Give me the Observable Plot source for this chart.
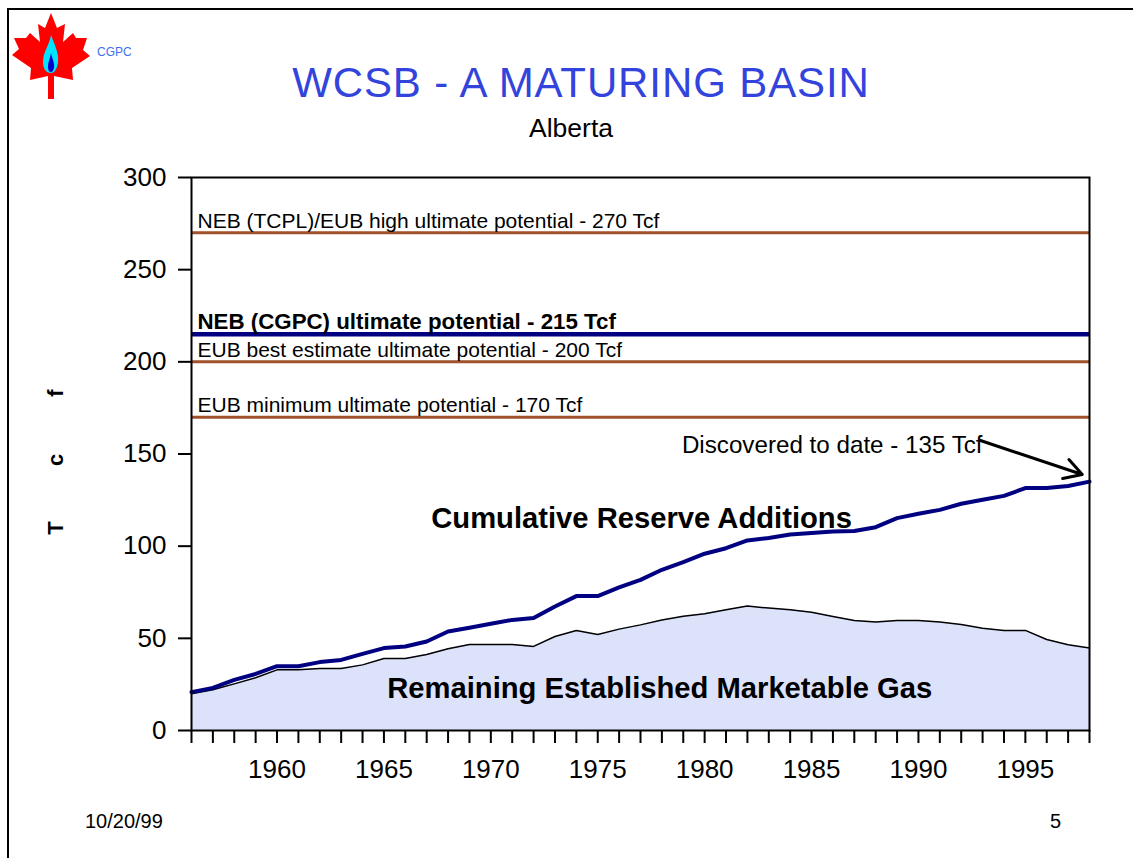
<!DOCTYPE html>
<html>
<head>
<meta charset="utf-8">
<script src="https://cdn.jsdelivr.net/npm/d3@7"></script>
<script src="https://cdn.jsdelivr.net/npm/@observablehq/plot@0.6"></script>
<style>
  html, body { margin: 0; padding: 0; background: #fff; overflow: hidden; }
  #page { position: relative; width: 1133px; height: 858px; overflow: hidden; font-family: "Liberation Sans", Arial, sans-serif; color: #000; }
  .abs { position: absolute; white-space: nowrap; line-height: 1; }
  #border { position: absolute; left: 7px; top: 8px; width: 1400px; height: 1000px; border: 2px solid #000; box-sizing: border-box; }
  #chart { position: absolute; left: 0; top: 160px; }
  #title { left: 581px; top: 61.5px; transform: translateX(-50%); font-size: 42px; color: #3344dd; letter-spacing: 0.9px; }
  #subtitle { left: 571px; top: 115px; transform: translateX(-50%); font-size: 26.5px; }
  #cgpc { left: 97px; top: 46px; font-size: 12px; color: #3d6fef; }
  #ylabel { left: 56px; top: 462px; transform: translate(-50%, -50%) rotate(-90deg); font-size: 22px; font-weight: bold; letter-spacing: 57px; padding-left: 57px; }
  #date { left: 85px; top: 811px; font-size: 20px; }
  #pagenum { left: 1050px; top: 811px; font-size: 20px; }
</style>
</head>
<body>
<div id="page">
  <div id="border"></div>
  <svg class="abs" style="left:0;top:0" width="100" height="105" viewBox="0 0 100 105">
    <polygon fill="#ff0000" points="51,13 57,28 65,24 63,42 73,33 76,38 87,38 83,50 90,56 72,68 73,80 54,76 54,99 48,99 48,76 30,80 31,68 12,55 19,49 14,38 26,38 30,33 40,42 38,24 45,28"/>
    <path fill="#00e5ff" d="M51,35 C54,44 59,52 58,62 C57,70 54,73 51,73 C47,73 43,70 43,62 C43,52 49,46 51,35 Z"/>
    <path fill="#0000cc" d="M51,53 C52,59 55,63 54,68 C53,71 52,72 51,72 C49,72 48,70 48,67 C48,62 50,59 51,53 Z"/>
  </svg>
  <div class="abs" id="cgpc">CGPC</div>
  <div class="abs" id="title">WCSB - A MATURING BASIN</div>
  <div class="abs" id="subtitle">Alberta</div>
  <div class="abs" id="ylabel">Tcf</div>
  <div id="chart"></div>
  <div class="abs" id="date">10/20/99</div>
  <div class="abs" id="pagenum">5</div>
</div>
<script>
// ---- Data ----
const years = [1956,1957,1958,1959,1960,1961,1962,1963,1964,1965,1966,1967,1968,1969,1970,1971,1972,1973,1974,1975,1976,1977,1978,1979,1980,1981,1982,1983,1984,1985,1986,1987,1988,1989,1990,1991,1992,1993,1994,1995,1996,1997,1998];
const cumulativeReserves = [20.8,23.1,27.5,30.7,34.9,34.9,37.1,38.3,41.6,44.7,45.6,48.3,53.7,55.7,57.9,60.0,61.0,67.3,72.9,72.9,77.6,81.7,87.2,91.3,95.9,98.9,103.1,104.4,106.3,107.2,108.0,108.2,110.3,115.2,117.6,119.7,123.0,125.2,127.3,131.5,131.5,132.6,135.0];
const remainingGas = [19.9,22.1,25.3,28.6,32.9,32.9,33.6,33.6,35.6,39.1,39.1,41.2,44.3,46.7,46.7,46.7,45.6,51.0,54.3,52.1,55.0,57.3,60.0,62.0,63.3,65.5,67.5,66.4,65.5,64.2,61.9,59.7,58.8,59.7,59.7,58.9,57.5,55.5,54.3,54.3,49.4,46.5,44.7];
const potentialValues = [270, 215, 200, 170];
const potentialLabels = [
  "NEB (TCPL)/EUB high ultimate potential - 270 Tcf",
  "NEB (CGPC) ultimate potential - 215 Tcf",
  "EUB best estimate ultimate potential - 200 Tcf",
  "EUB minimum ultimate potential - 170 Tcf"
];
const yTickValues = [0, 50, 100, 150, 200, 250, 300];
const xLabelYears = [1960, 1965, 1970, 1975, 1980, 1985, 1990, 1995];

// ---- Tables built from the arrays ----
const series = years.map((year, i) => ({year, cumulative: cumulativeReserves[i], remaining: remainingGas[i]}));
const potentials = potentialValues.map((value, i) => ({value, label: potentialLabels[i]}));
const nebCgpc = potentials.filter(d => d.value === 215);
const others = potentials.filter(d => d.value !== 215);

const FONT = '"Liberation Sans", Arial, sans-serif';

const chart = Plot.plot({
  width: 1133,
  height: 640,
  marginLeft: 191,
  marginRight: 44,
  marginTop: 17,
  marginBottom: 70,
  style: {fontFamily: FONT, fontSize: "26px", color: "#000", background: "transparent", overflow: "visible"},
  x: {domain: [1956, 1998]},
  y: {domain: [0, 300]},
  marks: [
    Plot.areaY(series, {x: "year", y: "remaining", fill: "#dde2fb"}),
    Plot.lineY(series, {x: "year", y: "remaining", stroke: "#000", strokeWidth: 1.5}),
    Plot.ruleY(others, {y: "value", stroke: "#a0522d", strokeWidth: 3}),
    Plot.ruleY(nebCgpc, {y: "value", stroke: "#000080", strokeWidth: 4.5}),
    Plot.text(others, {x: () => 1956, y: "value", text: "label", dx: 6, dy: -5, textAnchor: "start", lineAnchor: "bottom", fontSize: 21, fill: "#000"}),
    Plot.text(nebCgpc, {x: () => 1956, y: "value", text: "label", dx: 6, dy: -5, textAnchor: "start", lineAnchor: "bottom", fontSize: 22.3, fontWeight: "bold", fill: "#000"}),
    Plot.lineY(series, {x: "year", y: "cumulative", stroke: "#000080", strokeWidth: 4}),
    Plot.frame({stroke: "#000", strokeWidth: 2}),
    Plot.axisY({ticks: yTickValues, tickSize: 13, tickPadding: 12, strokeWidth: 2, tickFormat: d => String(d), label: null}),
    Plot.axisX({ticks: years, tickSize: 13, strokeWidth: 2, tickFormat: () => "", label: null}),
    Plot.axisX({ticks: xLabelYears, tickSize: 0, tickPadding: 29, tickFormat: d => String(d), label: null}),
    Plot.text(["Cumulative Reserve Additions"], {x: () => 1977.05, y: () => 109.6, textAnchor: "middle", lineAnchor: "bottom", fontSize: 29.2, fontWeight: "bold", fill: "#000"}),
    Plot.text(["Remaining Established Marketable Gas"], {x: () => 1977.9, y: () => 17.9, textAnchor: "middle", lineAnchor: "bottom", fontSize: 29.2, fontWeight: "bold", fill: "#000"}),
    Plot.text(["Discovered to date - 135 Tcf"], {x: () => 1993.0, y: () => 150.8, textAnchor: "end", lineAnchor: "bottom", fontSize: 24.2, fill: "#000"}),
    Plot.arrow([0], {x1: () => 1992.9, y1: () => 157.3, x2: () => 1997.66, y2: () => 138.9, stroke: "#000", strokeWidth: 3, headLength: 10})
  ]
});
document.getElementById("chart").appendChild(chart);
</script>
</body>
</html>
